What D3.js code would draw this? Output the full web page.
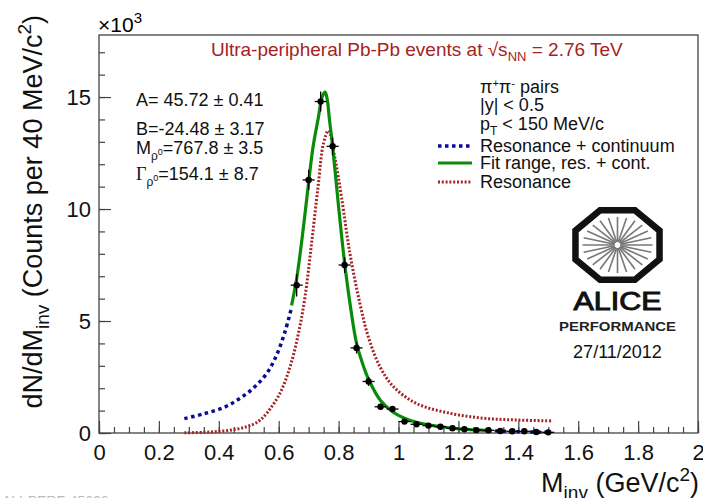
<!DOCTYPE html>
<meta charset="utf-8" />
<script src="https://cdn.jsdelivr.net/npm/d3@7"></script>
<style>
  body { margin: 0; background: #fff; }
  text { font-family: "Liberation Sans", Arial, sans-serif; }
</style>
<div id="chart"></div>
<script>
  // measured points, 40 MeV bins (counts in units of 10^3)
  const massBins = [0.66, 0.70, 0.74, 0.78, 0.82, 0.86, 0.90, 0.94, 0.98, 1.02, 1.06, 1.10,
    1.14, 1.18, 1.22, 1.26, 1.30, 1.34, 1.38, 1.42, 1.46, 1.50];
  const counts = [6.6, 11.3, 14.8, 12.8, 7.5, 3.8, 2.3, 1.17, 1.07, 0.51, 0.39, 0.33,
    0.28, 0.21, 0.165, 0.13, 0.12, 0.09, 0.076, 0.076, 0.045, 0.03];
  const countErr = [0.5, 0.45, 0.45, 0.4, 0.35, 0.25, 0.2, 0.14, 0.13, 0.09, 0.08, 0.07,
    0.07, 0.06, 0.05, 0.05, 0.04, 0.04, 0.035, 0.035, 0.03, 0.025];

  // fit, res. + cont. (inside fit range)
  const fitMass = [0.643, 0.66, 0.68, 0.70, 0.715, 0.732, 0.745, 0.755, 0.762, 0.769, 0.78,
    0.80, 0.82, 0.84, 0.86, 0.88, 0.90, 0.94, 0.98, 1.02, 1.06, 1.10, 1.14, 1.18, 1.22, 1.26, 1.30];
  const fitCounts = [5.7, 6.9, 8.9, 11.2, 12.8, 14.05, 15.0, 15.22, 14.9, 14.05, 12.8,
    10.1, 7.6, 5.6, 4.0, 3.1, 2.4, 1.45, 0.95, 0.66, 0.48, 0.36, 0.28, 0.22, 0.17, 0.135, 0.11];

  // resonance + continuum outside the fit range
  const contLowMass = [0.285, 0.348, 0.415, 0.465, 0.515, 0.56, 0.593, 0.621, 0.643];
  const contLowCounts = [0.64, 0.85, 1.13, 1.5, 2.0, 2.66, 3.48, 4.52, 5.6];
  const contHighMass = [1.30, 1.35, 1.40, 1.45, 1.51];
  const contHighCounts = [0.11, 0.08, 0.06, 0.045, 0.03];

  // resonance only
  const resMass = [0.285, 0.35, 0.40, 0.45, 0.493, 0.53, 0.56, 0.604, 0.638, 0.666, 0.688,
    0.71, 0.732, 0.749, 0.766, 0.788, 0.81, 0.838, 0.871, 0.899, 0.938, 0.983, 1.06,
    1.172, 1.283, 1.395, 1.51];
  const resCounts = [0.01, 0.03, 0.07, 0.15, 0.28, 0.5, 0.88, 1.77, 2.96, 4.45, 6.1,
    8.5, 11.07, 12.9, 13.5, 12.26, 10.5, 8.0, 5.79, 4.3, 2.96, 2.07, 1.32,
    0.88, 0.66, 0.58, 0.54];

  const xTicks = [0, 0.2, 0.4, 0.6, 0.8, 1, 1.2, 1.4, 1.6, 1.8, 2];
  const xTickLabels = ['0', '0.2', '0.4', '0.6', '0.8', '1', '1.2', '1.4', '1.6', '1.8', '2'];
  const yTicks = [0, 5, 10, 15];
  const yTickLabels = ['0', '5', '10', '15'];

  const width = 703, height = 498;
  const red = '#a52323', blue = '#0a0a96', green = '#0a8c0a';

  const svg = d3.select('#chart').append('svg')
    .attr('width', width).attr('height', height);

  const x = d3.scaleLinear().domain([0, 2]).range([99, 698]);
  const y = d3.scaleLinear().domain([0, 17.77]).range([433, 35]);

  // minor ticks
  svg.append('g').attr('transform', 'translate(0,433)')
    .call(d3.axisBottom(x).tickValues(d3.range(0, 2.001, 0.05)).tickSize(-6).tickFormat(''))
    .call(g => g.select('.domain').remove());
  svg.append('g').attr('transform', 'translate(99,0)')
    .call(d3.axisLeft(y).tickValues(d3.range(0, 17.5, 1)).tickSize(-6).tickFormat(''))
    .call(g => g.select('.domain').remove());

  // major ticks + labels
  const xAxis = svg.append('g').attr('transform', 'translate(0,433)')
    .call(d3.axisBottom(x).tickValues(xTicks).tickSize(-12).tickPadding(11)
      .tickFormat((d, i) => xTickLabels[i]));
  const yAxis = svg.append('g').attr('transform', 'translate(99,0)')
    .call(d3.axisLeft(y).tickValues(yTicks).tickSize(-12).tickPadding(8)
      .tickFormat((d, i) => yTickLabels[i]));
  [xAxis, yAxis].forEach(g => {
    g.select('.domain').remove();
    g.selectAll('text').attr('font-size', 22).attr('font-family', '"Liberation Sans", Arial, sans-serif').attr('fill', '#111');
  });
  svg.selectAll('.tick line').attr('stroke', '#444').attr('stroke-width', 1.2);

  // frame
  svg.append('rect')
    .attr('x', 99).attr('y', 35).attr('width', 599).attr('height', 398)
    .attr('fill', 'none').attr('stroke', '#444').attr('stroke-width', 1.3);

  svg.append('text').attr('x', 98).attr('y', 32).attr('font-size', 21)
    .text('×10').append('tspan').attr('dy', -9).attr('font-size', 15).text('3');

  // curves
  const line = d3.line().x(d => x(d[0])).y(d => y(d[1])).curve(d3.curveCatmullRom.alpha(0.5));
  const zip = (a, b) => a.map((v, i) => [v, b[i]]);

  svg.append('path').datum(zip(resMass, resCounts)).attr('d', line)
    .attr('fill', 'none').attr('stroke', red).attr('stroke-width', 3).attr('stroke-dasharray', '2,1.8');
  [zip(contLowMass, contLowCounts), zip(contHighMass, contHighCounts)].forEach(seg => {
    svg.append('path').datum(seg).attr('d', line)
      .attr('fill', 'none').attr('stroke', blue).attr('stroke-width', 3.5).attr('stroke-dasharray', '3.5,3.5');
  });
  svg.append('path').datum(zip(fitMass, fitCounts)).attr('d', line)
    .attr('fill', 'none').attr('stroke', green).attr('stroke-width', 3.2);

  // data points
  const pts = svg.append('g').selectAll('g').data(massBins).enter().append('g');
  pts.append('line')
    .attr('x1', d => x(d - 0.02)).attr('x2', d => x(d + 0.02))
    .attr('y1', (d, i) => y(counts[i])).attr('y2', (d, i) => y(counts[i]))
    .attr('stroke', '#000').attr('stroke-width', 1.3);
  pts.append('line')
    .attr('x1', d => x(d)).attr('x2', d => x(d))
    .attr('y1', (d, i) => y(counts[i] - countErr[i])).attr('y2', (d, i) => y(counts[i] + countErr[i]))
    .attr('stroke', '#000').attr('stroke-width', 1.3);
  pts.append('circle')
    .attr('cx', d => x(d)).attr('cy', (d, i) => y(counts[i])).attr('r', 3.2).attr('fill', '#000');

  // axis titles
  const xt = svg.append('text').attr('x', 699).attr('y', 492).attr('text-anchor', 'end')
    .attr('font-size', 27).attr('fill', '#111');
  xt.append('tspan').text('M');
  xt.append('tspan').attr('dy', 7).attr('font-size', 19).text('inv');
  xt.append('tspan').attr('dy', -7).text(' (GeV/c');
  xt.append('tspan').attr('dy', -11).attr('font-size', 19).text('2');
  xt.append('tspan').attr('dy', 11).text(')');

  const yt = svg.append('text').attr('transform', 'translate(42,15) rotate(-90)')
    .attr('text-anchor', 'end').attr('font-size', 27).attr('fill', '#111');
  yt.append('tspan').text('dN/dM');
  yt.append('tspan').attr('dy', 7).attr('font-size', 19).text('inv');
  yt.append('tspan').attr('dy', -7).text(' (Counts per 40 MeV/c');
  yt.append('tspan').attr('dy', -11).attr('font-size', 19).text('2');
  yt.append('tspan').attr('dy', 11).text(')');

  // title
  const tt = svg.append('text').attr('x', 211).attr('y', 56).attr('font-size', 19).attr('fill', red);
  tt.append('tspan').text('Ultra-peripheral Pb-Pb events at √s');
  tt.append('tspan').attr('dy', 5).attr('font-size', 13).text('NN');
  tt.append('tspan').attr('dy', -5).text(' = 2.76 TeV');

  // fit parameters
  const par = svg.append('g').attr('font-size', 18).attr('fill', '#111');
  par.append('text').attr('x', 136).attr('y', 106).text('A= 45.72 ± 0.41');
  par.append('text').attr('x', 136).attr('y', 135).text('B=-24.48 ± 3.17');
  const pm = par.append('text').attr('x', 136).attr('y', 154);
  pm.append('tspan').text('M');
  pm.append('tspan').attr('dy', 6).attr('font-size', 12).text('ρ');
  pm.append('tspan').attr('dy', -5).attr('font-size', 9).text('0');
  pm.append('tspan').attr('dy', -1).text('=767.8 ± 3.5');
  const pg = par.append('text').attr('x', 136).attr('y', 180);
  pg.append('tspan').attr('font-family', '"Liberation Serif", serif').text('Γ');
  pg.append('tspan').attr('dy', 6).attr('font-size', 12).text('ρ');
  pg.append('tspan').attr('dy', -5).attr('font-size', 9).text('0');
  pg.append('tspan').attr('dy', -1).text('=154.1 ± 8.7');

  // legend
  const leg = svg.append('g').attr('font-size', 18).attr('fill', '#111');
  const l1 = leg.append('text').attr('x', 480).attr('y', 93);
  l1.append('tspan').text('π');
  l1.append('tspan').attr('dy', -6).attr('font-size', 11).text('+');
  l1.append('tspan').attr('dy', 6).text('π');
  l1.append('tspan').attr('dy', -6).attr('font-size', 11).text('-');
  l1.append('tspan').attr('dy', 6).text(' pairs');
  leg.append('text').attr('x', 480).attr('y', 111).text('|y| < 0.5');
  const l3 = leg.append('text').attr('x', 480).attr('y', 130);
  l3.append('tspan').text('p');
  l3.append('tspan').attr('dy', 5).attr('font-size', 12).text('T');
  l3.append('tspan').attr('dy', -5).text(' < 150 MeV/c');
  const entries = [
    { label: 'Resonance + continuum', y: 152, color: blue, w: 3.5, dash: '3.5,3.5' },
    { label: 'Fit range, res. + cont.', y: 169, color: green, w: 3.2, dash: null },
    { label: 'Resonance', y: 188, color: red, w: 3, dash: '2,1.8' }
  ];
  entries.forEach(e => {
    leg.append('line').attr('x1', 438).attr('x2', 472).attr('y1', e.y - 6).attr('y2', e.y - 6)
      .attr('stroke', e.color).attr('stroke-width', e.w).attr('stroke-dasharray', e.dash);
    leg.append('text').attr('x', 480).attr('y', e.y).text(e.label);
  });

  // ALICE logo
  const cx = 617.5, cy = 245;
  const oct = d3.range(8).map(k => {
    const a = Math.PI / 8 + k * Math.PI / 4;
    return [cx + 45.5 * Math.cos(a), cy + 37.5 * Math.sin(a)];
  });
  svg.append('path').attr('d', d3.line()(oct) + 'Z')
    .attr('fill', 'none').attr('stroke', '#111').attr('stroke-width', 6.5).attr('stroke-linejoin', 'miter');
  d3.range(24).forEach(k => {
    const a = k * Math.PI / 12;
    svg.append('line')
      .attr('x1', cx + 3 * Math.cos(a)).attr('y1', cy + 3 * Math.sin(a))
      .attr('x2', cx + 35 * Math.cos(a)).attr('y2', cy + 28 * Math.sin(a))
      .attr('stroke', '#777').attr('stroke-width', 1.6);
  });
  svg.append('text').attr('x', cx).attr('y', 310).attr('text-anchor', 'middle')
    .attr('font-size', 25).attr('font-family', '"DejaVu Sans", sans-serif')
    .attr('stroke', '#111').attr('stroke-width', 1)
    .attr('textLength', 88).attr('lengthAdjust', 'spacingAndGlyphs').attr('fill', '#111').text('ALICE');
  svg.append('text').attr('x', cx).attr('y', 331).attr('text-anchor', 'middle')
    .attr('font-size', 12).attr('font-family', '"DejaVu Sans", sans-serif').attr('font-weight', 'bold')
    .attr('textLength', 117).attr('lengthAdjust', 'spacingAndGlyphs').attr('fill', '#222').text('PERFORMANCE');
  svg.append('text').attr('x', cx).attr('y', 358).attr('text-anchor', 'middle')
    .attr('font-size', 18).attr('fill', '#111').text('27/11/2012');

  svg.append('text').attr('x', 2).attr('y', 506).attr('font-size', 14).attr('fill', '#bbb')
    .text('ALI-PERF-45626');
</script>
